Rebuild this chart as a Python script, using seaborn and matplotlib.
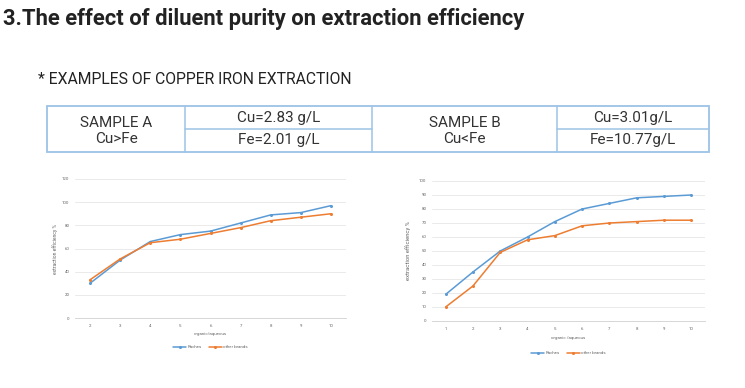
import matplotlib
matplotlib.use('Agg')
import matplotlib.pyplot as plt
from matplotlib.patches import Rectangle
from matplotlib.lines import Line2D
import pandas as pd
import seaborn as sns

sns.set_style('white')
plt.rcParams['font.family'] = ['Roboto', 'DejaVu Sans']

# data
ratio_a = [2, 3, 4, 5, 6, 7, 8, 9, 10]
raches_a = [30, 50, 66, 72, 75, 82, 89, 91, 97]
others_a = [33, 51, 65, 68, 73, 78, 84, 87, 90]

ratio_b = [1, 2, 3, 4, 5, 6, 7, 8, 9, 10]
raches_b = [19, 35, 50, 60, 71, 80, 84, 88, 89, 90]
others_b = [10, 25, 49, 58, 61, 68, 70, 71, 72, 72]

series_names = ['Raches', 'other brands']
table_cells = ['SAMPLE A', 'Cu>Fe', 'Cu=2.83 g/L', 'Fe=2.01 g/L',
               'SAMPLE B', 'Cu<Fe', 'Cu=3.01g/L', 'Fe=10.77g/L']

palette = {'Raches': '#5B9BD5', 'other brands': '#ED7D31'}

W, H = 745, 388
fig = plt.figure(figsize=(W / 100, H / 100), dpi=100)
fig.patch.set_facecolor('white')


def px(x, y):
    return x / W, 1 - y / H


# headings
fig.text(*px(3, 19), '3.The effect of diluent purity on extraction efficiency',
         fontsize=15.8, fontweight='bold', color='#222222', va='center', ha='left')
fig.text(*px(38, 79), '* EXAMPLES OF COPPER IRON EXTRACTION', fontsize=11.3,
         color='#222222', va='center', ha='left')

# table
tc = '#9DC3E6'
x0, x1, x2, x3, x4 = 47, 185, 372, 557, 709
y0, ym, y1 = 106, 129, 152
fig.add_artist(Rectangle(px(x0, y1), (x4 - x0) / W, (y1 - y0) / H,
                         transform=fig.transFigure, fill=False, ec=tc, lw=1.3))
for xv in (x1, x2, x3):
    fig.add_artist(Line2D([xv / W] * 2, [1 - y0 / H, 1 - y1 / H],
                          transform=fig.transFigure, color=tc, lw=1.1))
for xa, xb in ((x1, x2), (x3, x4)):
    fig.add_artist(Line2D([xa / W, xb / W], [1 - ym / H] * 2,
                          transform=fig.transFigure, color=tc, lw=1.1))
cell_pos = [((x0 + x1) / 2, 123), ((x0 + x1) / 2, 139),
            ((x1 + x2) / 2, 118), ((x1 + x2) / 2, 140),
            ((x2 + x3) / 2, 123), ((x2 + x3) / 2, 139),
            ((x3 + x4) / 2, 118), ((x3 + x4) / 2, 140)]
for (cx, cy), txt in zip(cell_pos, table_cells):
    fig.text(*px(cx, cy), txt, ha='center', va='center', fontsize=11,
             color='#333333')


def draw(ax, ratio, raches, others, ylim, step, leg_y):
    df = pd.DataFrame({'ratio': ratio * 2,
                       'eff': raches + others,
                       'brand': [series_names[0]] * len(ratio) + [series_names[1]] * len(ratio)})
    sns.lineplot(data=df, x='ratio', y='eff', hue='brand', palette=palette,
                 marker='o', markersize=2.2, markeredgewidth=0, linewidth=1.1, ax=ax)
    ax.set_xlim(ratio[0] - 0.5, ratio[-1] + 0.5)
    ax.set_ylim(*ylim)
    ax.set_xticks(ratio)
    ax.set_yticks(range(ylim[0], ylim[1] + 1, step))
    ax.grid(axis='y', color='#e6e6e6', lw=0.6)
    ax.set_axisbelow(True)
    for s in ('top', 'right', 'left'):
        ax.spines[s].set_visible(False)
    ax.spines['bottom'].set_color('#d0d0d0')
    ax.spines['bottom'].set_linewidth(0.6)
    ax.tick_params(labelsize=3.2, colors='#666666', length=0, pad=4)
    ax.set_ylabel('extraction efficiency %', fontsize=3.6, color='#666666', labelpad=3)
    ax.legend(loc='center', bbox_to_anchor=(0.5, leg_y), ncol=2, frameon=False,
              fontsize=3.2, handlelength=3, labelcolor='#666666', columnspacing=1.5,
              handletextpad=0.3)


axa = fig.add_axes([75 / W, 1 - 318 / H, 271 / W, 139 / H])
draw(axa, ratio_a, raches_a, others_a, (0, 120), 20, -0.21)
axa.set_xlabel('organic/aqueous', fontsize=3.2, color='#666666', labelpad=3)

axb = fig.add_axes([432 / W, 1 - 321 / H, 273 / W, 140 / H])
draw(axb, ratio_b, raches_b, others_b, (0, 100), 10, -0.23)
axb.set_xlabel('organic /aqueous', fontsize=3.2, color='#666666', labelpad=4)
axb.set_ylabel('extraction efficiency %', fontsize=4.2, color='#666666', labelpad=6)

fig.savefig('out.png', dpi=100, facecolor='white')
